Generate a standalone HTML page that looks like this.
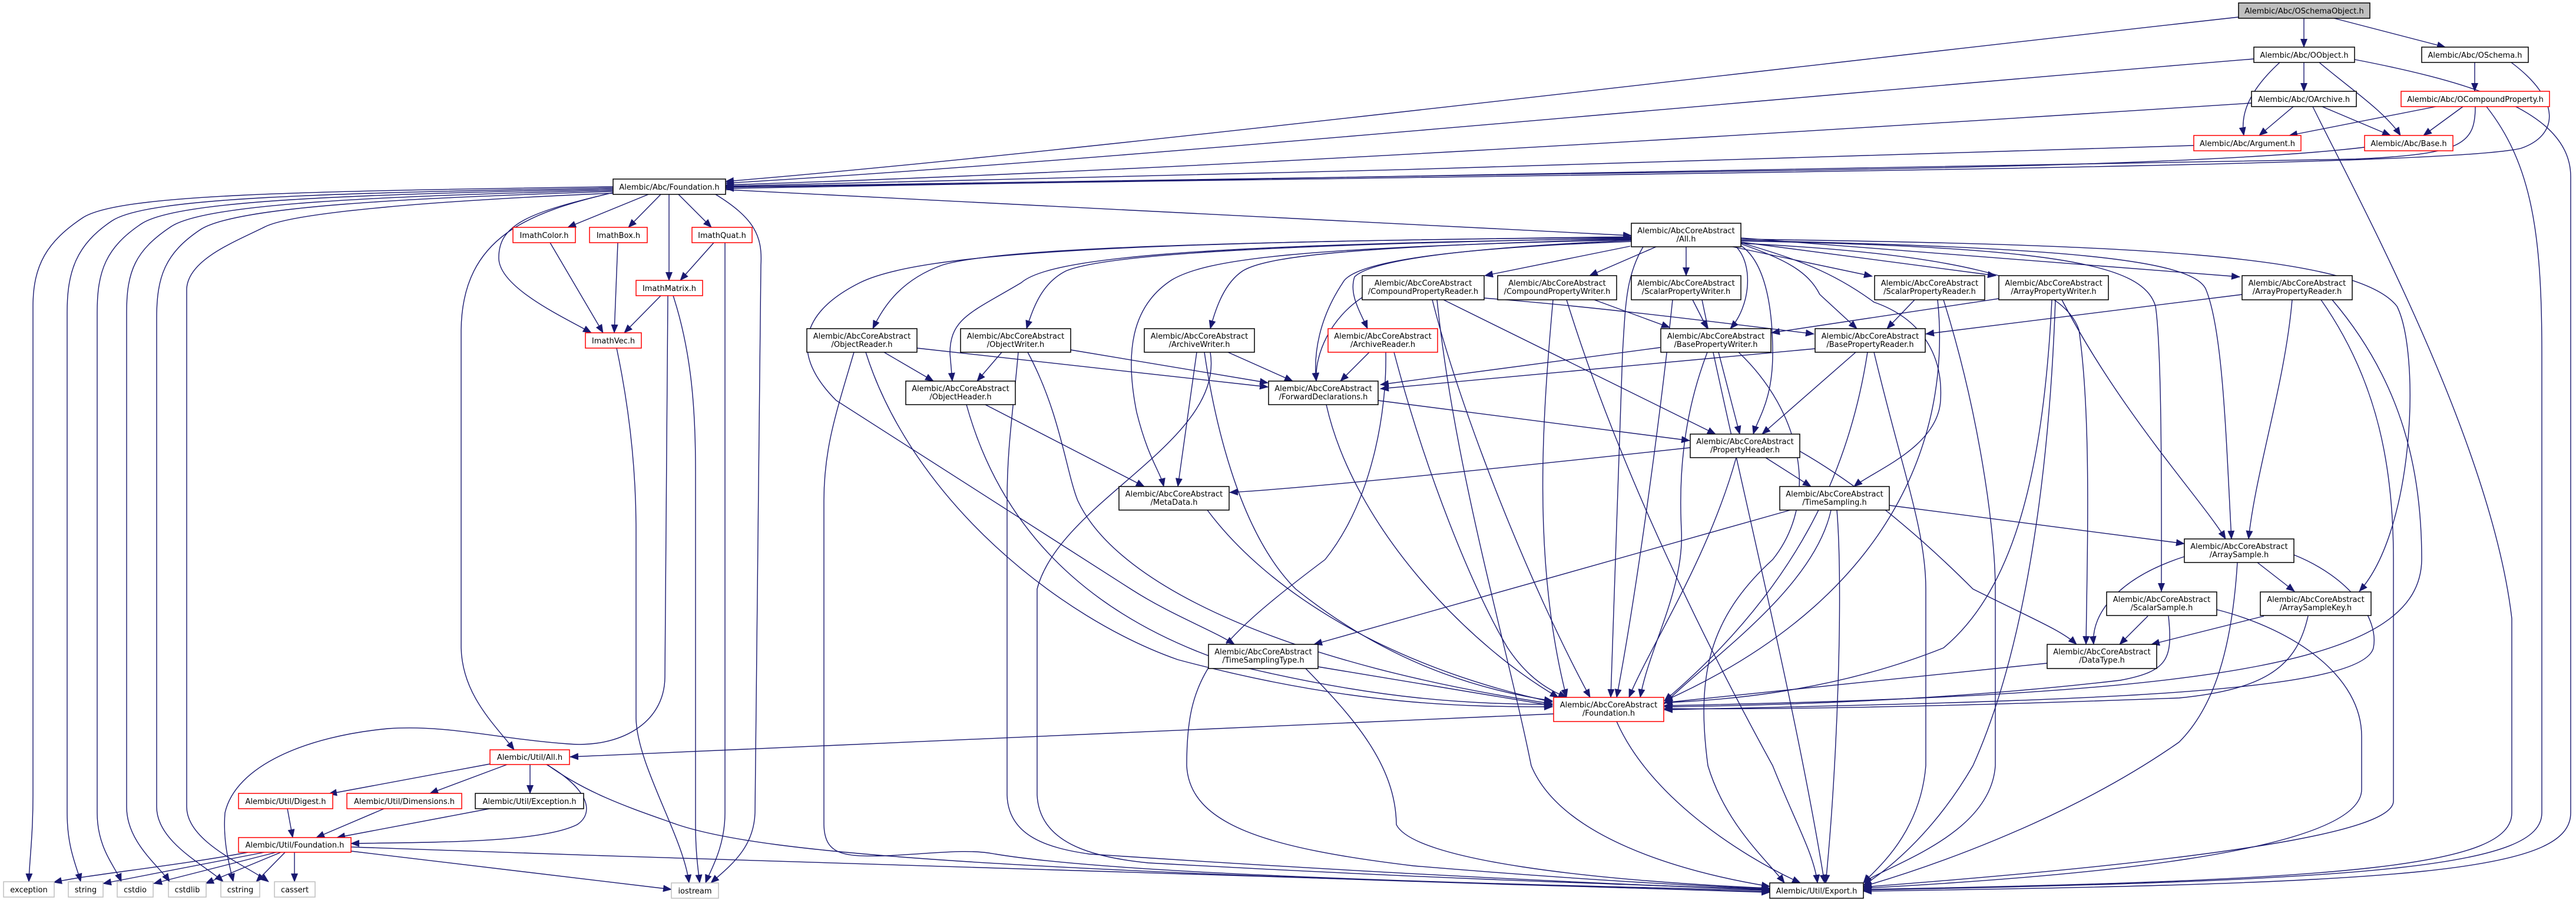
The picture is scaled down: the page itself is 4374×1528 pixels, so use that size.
<!DOCTYPE html>
<html><head><meta charset="utf-8">
<style>
html,body{margin:0;padding:0;background:#fff;width:4374px;height:1528px;overflow:hidden}
svg{display:block}
text{font-family:"DejaVu Sans","Liberation Sans",sans-serif;font-size:13px;fill:#000;text-anchor:middle}
</style></head><body>
<svg width="4374" height="1528" viewBox="0 0 4374 1528" xmlns="http://www.w3.org/2000/svg">
<defs>
<marker id="a" markerUnits="userSpaceOnUse" markerWidth="15" markerHeight="12" refX="14" refY="6" orient="auto"><path d="M0,0 L15,6 L0,12 z" fill="#191970"/></marker>
</defs>
<rect width="4374" height="1528" fill="#fff"/>
<g fill="none" stroke="#191970" stroke-width="1.4" marker-end="url(#a)">
<path d="M3912,31 L3912,80"/>
<path d="M3963,31 L4152,80"/>
<path d="M3801,29 C3000,118 1800,262 1232,308"/>
<path d="M3827,100 C3000,168 1900,272 1232,311"/>
<path d="M3912,106 L3912,155"/>
<path d="M3871,106 C3812,160 3805,200 3810,230"/>
<path d="M3938,106 C3990,150 4050,190 4076,230"/>
<path d="M3998,101 C4200,140 4365,190 4365,300 L4365,1380 C4365,1480 4100,1500 3164,1513"/>
<path d="M4202,106 L4202,155"/>
<path d="M4264,106 C4350,170 4345,230 4280,252 C4150,282 3000,292 1232,318"/>
<path d="M3823,175 C3000,228 2000,290 1232,314"/>
<path d="M3894,181 L3836,230"/>
<path d="M3943,181 L4059,230"/>
<path d="M3927,181 C4000,330 4230,750 4265,1050 L4265,1380 C4265,1470 4000,1495 3164,1510"/>
<path d="M4136,181 L3887,230"/>
<path d="M4182,181 L4115,230"/>
<path d="M4203,181 C4203,245 4180,262 4000,270 C3000,292 2000,302 1232,320"/>
<path d="M4222,181 C4300,280 4316,400 4316,600 L4316,1380 C4316,1470 4050,1495 3164,1511"/>
<path d="M3725,247 C3000,272 2000,300 1232,316"/>
<path d="M4015,250 C3850,270 3500,283 3000,290 C2200,300 1600,310 1232,317"/>

<path d="M1101,330 L964,386"/>
<path d="M1122,330 L1067,386"/>
<path d="M1136,330 L1136,476"/>
<path d="M1152,330 L1208,386"/>
<path d="M1041,327 C900,360 845,380 847,440 C850,490 960,540 1004,565"/>
<path d="M1215,330 C1280,370 1295,400 1292,450 L1282,1380 C1280,1440 1240,1470 1207,1499"/>
<path d="M1232,322 L2770,400"/>
<path d="M1045,326 C900,360 785,400 783,560 L783,1100 C785,1180 840,1230 873,1273"/>
<path d="M1041,317 C500,325 200,330 140,370 C80,410 56,450 56,520 L56,1350 C56,1420 50,1460 49,1497"/>
<path d="M1041,319 C550,328 250,335 190,375 C130,415 114,460 114,530 L114,1380 C114,1440 130,1470 137,1497"/>
<path d="M1041,321 C600,330 300,340 240,380 C180,420 165,460 165,530 L165,1380 C165,1440 195,1470 206,1497"/>
<path d="M1041,323 C650,333 350,345 290,385 C230,425 215,460 215,530 L215,1370 C215,1430 270,1470 288,1497"/>
<path d="M1041,325 C700,336 400,350 340,390 C280,430 266,470 266,540 L266,1370 C266,1430 350,1470 379,1497"/>
<path d="M1041,328 C750,340 500,360 450,385 C400,410 320,440 317,490 L317,1370 C317,1430 420,1470 456,1497"/>

<path d="M934,412 L1024,565"/>
<path d="M1049,412 L1043,565"/>
<path d="M1122,502 L1060,565"/>
<path d="M1212,412 L1155,476"/>
<path d="M1143,502 C1175,600 1181,700 1181,800 L1181,1400 C1181,1450 1186,1480 1188,1499"/>
<path d="M1134,502 L1129,1150 C1128,1230 1050,1270 965,1263 C850,1255 760,1230 659,1237 C520,1250 400,1300 382,1380 C378,1430 390,1470 396,1497"/>
<path d="M1231,412 L1231,1380 C1231,1440 1205,1480 1198,1499"/>
<path d="M1047,591 C1070,700 1080,800 1080,900 L1080,1220 C1082,1300 1160,1420 1170,1499"/>

<path d="M2770,402 C2100,410 1700,420 1600,450 C1530,475 1500,520 1482,558"/>
<path d="M2770,404 C2200,415 1880,430 1810,460 C1770,480 1755,520 1743,558"/>
<path d="M2770,406 C2300,418 2150,435 2110,460 C2080,480 2065,520 2055,558"/>
<path d="M2770,408 C2500,420 2330,440 2300,470 C2290,500 2310,530 2322,558"/>
<path d="M2770,405 C2000,415 1780,440 1734,480 C1650,530 1613,540 1613,600 L1617,647"/>
<path d="M2770,410 C2500,420 2300,440 2280,480 C2240,540 2230,600 2235,647"/>
<path d="M2770,407 C2200,420 2050,440 1990,475 C1920,520 1910,600 1930,700 C1950,780 1970,800 1976,826"/>
<path d="M2770,403 C1900,410 1560,430 1460,480 C1360,530 1340,600 1420,680 L1920,1000 C1990,1045 2060,1070 2096,1094"/>
<path d="M2768,418 L2521,468"/>
<path d="M2812,419 L2699,468"/>
<path d="M2863,419 L2863,468"/>
<path d="M2942,419 L3179,469"/>
<path d="M2956,411 L3389,468"/>
<path d="M2956,404 L3803,470"/>
<path d="M2948,419 C2978,450 2972,520 2938,558"/>
<path d="M2956,414 C3030,440 3070,460 3090,500 L3153,558"/>
<path d="M2956,417 C2990,440 3010,500 3010,600 C3010,680 2985,710 2977,737"/>
<path d="M2956,412 C3050,440 3110,460 3182,513 C3260,540 3300,600 3295,680 C3290,760 3180,800 3148,826"/>
<path d="M2956,408 C3500,420 3720,440 3745,490 C3775,560 3780,750 3789,915"/>
<path d="M2956,406 C3600,415 4000,430 4070,520 C4110,600 4100,900 4006,1004"/>
<path d="M2956,409 C3500,420 3640,450 3660,520 C3672,600 3670,900 3670,1004"/>
<path d="M2956,413 C3300,430 3500,470 3530,560 C3550,700 3545,900 3542,1094"/>
<path d="M2790,419 C2760,470 2760,520 2755,600 L2735,1184"/>

<path d="M2874,509 L2899,558"/>
<path d="M2707,509 L2835,556"/>
<path d="M2520,506 C2700,520 2900,545 3080,567"/>
<path d="M3251,509 L3204,558"/>
<path d="M3807,500 L3270,567"/>
<path d="M3394,507 L3008,565"/>
<path d="M2918,598 L2954,737"/>
<path d="M3151,598 L2992,737"/>
<path d="M2451,509 L2913,737"/>
<path d="M2340,680 L2869,748"/>
<path d="M2870,760 C2500,800 2200,830 2088,836"/>
<path d="M2998,777 L3075,826"/>
<path d="M2948,777 C2900,950 2800,1100 2766,1184"/>
<path d="M3056,766 C3150,820 3250,900 3350,1000 C3450,1050 3500,1070 3526,1094"/>
<path d="M3208,858 L3709,923"/>
<path d="M3040,866 L2231,1094"/>
<path d="M3109,866 C3080,1000 2900,1120 2826,1195"/>
<path d="M3119,866 C3130,1000 3120,1300 3100,1499"/>
<path d="M3501,509 C3600,700 3740,850 3779,915"/>
<path d="M3892,509 C3880,650 3830,800 3818,915"/>
<path d="M3833,955 L3896,1004"/>
<path d="M3709,945 C3600,980 3550,1040 3555,1094"/>
<path d="M3799,955 C3790,1100 3760,1200 3700,1260 C3500,1400 3250,1480 3164,1505"/>
<path d="M3895,942 C3990,980 4040,1050 4030,1100 C4010,1180 3500,1190 2826,1205"/>
<path d="M3647,1046 L3599,1094"/>
<path d="M3844,1046 L3653,1094"/>
<path d="M3682,1046 C3690,1120 3680,1140 3600,1155 C3300,1190 3000,1198 2826,1200"/>
<path d="M3764,1035 C3900,1070 4010,1150 4010,1250 L4010,1340 C4010,1450 3500,1490 3164,1508"/>
<path d="M3919,1046 C3900,1130 3850,1170 3700,1185 C3300,1200 3000,1205 2826,1203"/>
<path d="M3476,1126 L2826,1193"/>
<path d="M2745,1225 C2800,1350 2950,1450 3057,1499"/>
<path d="M2638,1212 L968,1285"/>
<path d="M2238,1132 L2636,1198"/>
<path d="M2217,1135 C2300,1220 2370,1300 2371,1400 C2400,1460 2700,1495 3005,1508"/>

<path d="M1501,598 L1585,647"/>
<path d="M1557,591 L2153,657"/>
<path d="M1470,598 C1550,850 1800,1050 2000,1120 C2300,1200 2500,1200 2636,1200"/>
<path d="M1450,598 C1420,700 1399,760 1399,850 L1399,1400 C1400,1450 1430,1455 1500,1453 C1580,1450 1640,1440 1690,1450 C1900,1485 2500,1500 3005,1512"/>
<path d="M1701,598 L1659,647"/>
<path d="M1818,594 L2153,650"/>
<path d="M1745,598 C1800,700 1810,800 1830,850 C1900,1000 2200,1130 2636,1195"/>
<path d="M1729,598 C1720,700 1710,760 1710,850 L1710,1350 C1712,1420 1780,1440 1850,1450 C2300,1480 2700,1500 3005,1511"/>
<path d="M2085,598 L2195,647"/>
<path d="M2032,598 L2000,826"/>
<path d="M2045,598 C2060,700 2100,900 2200,1000 C2350,1120 2500,1170 2636,1190"/>
<path d="M2055,598 C2080,750 1800,850 1761,1000 L1761,1350 C1765,1430 1850,1455 1950,1465 C2400,1490 2700,1500 3005,1510"/>
<path d="M2325,598 L2276,647"/>
<path d="M2367,598 C2420,800 2500,1000 2560,1100 C2600,1160 2640,1175 2660,1184"/>
<path d="M2353,598 C2355,700 2330,850 2250,950 C2050,1100 2015,1150 2015,1300 C2020,1400 2150,1440 2400,1470 C2700,1495 2900,1505 3005,1509"/>
<path d="M2252,687 C2300,900 2500,1100 2646,1184"/>
<path d="M2313,505 C2260,540 2232,600 2235,647"/>
<path d="M2432,509 C2480,700 2600,1000 2700,1184"/>
<path d="M2440,509 C2470,800 2560,1100 2600,1300 C2650,1420 2850,1480 3005,1505"/>
<path d="M2637,509 C2620,700 2600,950 2660,1184"/>
<path d="M2660,509 C2750,800 2900,1100 3010,1300 C3050,1400 3080,1450 3086,1499"/>
<path d="M2840,509 C2820,700 2780,1000 2745,1184"/>
<path d="M2890,509 C2950,800 3050,1200 3098,1499"/>
<path d="M3290,509 C3310,700 3250,1000 2826,1190"/>
<path d="M3300,509 C3360,700 3388,900 3388,1000 L3388,1300 C3380,1420 3200,1470 3164,1499"/>
<path d="M3484,509 C3470,800 3420,1000 3300,1100 C3100,1180 2900,1190 2826,1193"/>
<path d="M3490,509 C3480,800 3440,1100 3350,1300 C3280,1420 3200,1480 3164,1503"/>
<path d="M3941,509 C4040,650 4064,800 4064,950 L4064,1360 C4064,1400 3900,1450 3164,1506"/>
<path d="M3960,509 C4080,650 4112,800 4112,950 C4110,1120 3800,1180 2826,1198"/>
<path d="M2819,590 L2344,653"/>
<path d="M2899,598 C2860,700 2850,800 2855,900 C2860,1000 2800,1100 2785,1184"/>
<path d="M2952,598 C3060,700 3090,850 3010,950 C2900,1050 2880,1150 2900,1300 C2930,1400 3000,1460 3030,1499"/>
<path d="M3082,592 L2344,660"/>
<path d="M3171,598 C3140,800 3050,1000 2826,1190"/>
<path d="M3182,598 C3230,800 3270,900 3270,1000 L3270,1300 C3260,1420 3180,1480 3164,1499"/>
<path d="M1673,687 L1943,826"/>
<path d="M1641,687 C1700,900 1850,1050 2100,1130 C2350,1190 2500,1195 2636,1196"/>
<path d="M2050,866 C2150,1000 2350,1130 2636,1192"/>

<path d="M832,1297 L558,1348"/>
<path d="M861,1298 L730,1347"/>
<path d="M900,1298 L900,1347"/>
<path d="M928,1298 C1000,1340 1010,1380 980,1400 C920,1430 750,1430 596,1432"/>
<path d="M929,1298 C1000,1350 1080,1375 1150,1400 C1300,1450 1700,1480 3005,1514"/>
<path d="M488,1373 L497,1422"/>
<path d="M652,1373 L537,1422"/>
<path d="M831,1373 L572,1422"/>
<path d="M421,1447 C300,1470 150,1485 91,1498"/>
<path d="M449,1447 L175,1500"/>
<path d="M469,1447 L261,1500"/>
<path d="M477,1447 L349,1500"/>
<path d="M484,1447 L435,1497"/>
<path d="M500,1447 L500,1497"/>
<path d="M596,1445 L1140,1510"/>
<path d="M596,1438 C1500,1470 2500,1500 3005,1515"/>
</g>

<g stroke-width="1.5">
<rect x="3801" y="5" width="223" height="26" fill="#bfbfbf" stroke="#000"/>
<rect x="3827" y="80" width="171" height="26" fill="#fff" stroke="#000"/>
<rect x="4112" y="80" width="181" height="26" fill="#fff" stroke="#000"/>
<rect x="3823" y="155" width="178" height="26" fill="#fff" stroke="#000"/>
<rect x="4077" y="155" width="252" height="26" fill="#fff" stroke="#f00"/>
<rect x="3725" y="230" width="182" height="26" fill="#fff" stroke="#f00"/>
<rect x="4015" y="230" width="150" height="26" fill="#fff" stroke="#f00"/>
<rect x="1041" y="304" width="191" height="26" fill="#fff" stroke="#000"/>
<rect x="2770" y="379" width="186" height="40" fill="#fff" stroke="#000"/>
<rect x="871" y="386" width="106" height="26" fill="#fff" stroke="#f00"/>
<rect x="1001" y="386" width="98" height="26" fill="#fff" stroke="#f00"/>
<rect x="1175" y="386" width="102" height="26" fill="#fff" stroke="#f00"/>
<rect x="1080" y="476" width="113" height="26" fill="#fff" stroke="#f00"/>
<rect x="994" y="565" width="95" height="26" fill="#fff" stroke="#f00"/>
<rect x="2313" y="468" width="207" height="41" fill="#fff" stroke="#000"/>
<rect x="2543" y="468" width="202" height="41" fill="#fff" stroke="#000"/>
<rect x="2770" y="468" width="186" height="41" fill="#fff" stroke="#000"/>
<rect x="3183" y="468" width="187" height="41" fill="#fff" stroke="#000"/>
<rect x="3394" y="468" width="186" height="41" fill="#fff" stroke="#000"/>
<rect x="3807" y="468" width="187" height="41" fill="#fff" stroke="#000"/>
<rect x="1370" y="558" width="187" height="40" fill="#fff" stroke="#000"/>
<rect x="1631" y="558" width="187" height="40" fill="#fff" stroke="#000"/>
<rect x="1943" y="558" width="187" height="40" fill="#fff" stroke="#000"/>
<rect x="2255" y="558" width="186" height="40" fill="#fff" stroke="#f00"/>
<rect x="2820" y="558" width="187" height="40" fill="#fff" stroke="#000"/>
<rect x="3082" y="558" width="187" height="40" fill="#fff" stroke="#000"/>
<rect x="1538" y="647" width="186" height="40" fill="#fff" stroke="#000"/>
<rect x="2154" y="647" width="186" height="40" fill="#fff" stroke="#000"/>
<rect x="2870" y="737" width="186" height="40" fill="#fff" stroke="#000"/>
<rect x="1900" y="826" width="187" height="40" fill="#fff" stroke="#000"/>
<rect x="3022" y="826" width="186" height="40" fill="#fff" stroke="#000"/>
<rect x="3709" y="915" width="186" height="40" fill="#fff" stroke="#000"/>
<rect x="3577" y="1005" width="187" height="40" fill="#fff" stroke="#000"/>
<rect x="3838" y="1005" width="188" height="40" fill="#fff" stroke="#000"/>
<rect x="2052" y="1094" width="186" height="41" fill="#fff" stroke="#000"/>
<rect x="3476" y="1094" width="186" height="41" fill="#fff" stroke="#000"/>
<rect x="2638" y="1184" width="187" height="41" fill="#fff" stroke="#f00"/>
<rect x="832" y="1273" width="135" height="25" fill="#fff" stroke="#f00"/>
<rect x="405" y="1347" width="160" height="26" fill="#fff" stroke="#f00"/>
<rect x="589" y="1347" width="195" height="26" fill="#fff" stroke="#f00"/>
<rect x="807" y="1347" width="184" height="26" fill="#fff" stroke="#000"/>
<rect x="405" y="1422" width="191" height="25" fill="#fff" stroke="#f00"/>
<rect x="6" y="1497" width="86" height="26" fill="#fff" stroke="#bfbfbf"/>
<rect x="116" y="1497" width="59" height="26" fill="#fff" stroke="#bfbfbf"/>
<rect x="199" y="1497" width="61" height="26" fill="#fff" stroke="#bfbfbf"/>
<rect x="286" y="1497" width="64" height="26" fill="#fff" stroke="#bfbfbf"/>
<rect x="375" y="1497" width="66" height="26" fill="#fff" stroke="#bfbfbf"/>
<rect x="466" y="1497" width="69" height="26" fill="#fff" stroke="#bfbfbf"/>
<rect x="1140" y="1499" width="80" height="26" fill="#fff" stroke="#bfbfbf"/>
<rect x="3005" y="1499" width="159" height="26" fill="#fff" stroke="#000"/>
</g>

<g>
<text x="3912.5" y="23">Alembic/Abc/OSchemaObject.h</text>
<text x="3912.5" y="98">Alembic/Abc/OObject.h</text>
<text x="4202.5" y="98">Alembic/Abc/OSchema.h</text>
<text x="3912" y="173">Alembic/Abc/OArchive.h</text>
<text x="4203" y="173">Alembic/Abc/OCompoundProperty.h</text>
<text x="3816" y="248">Alembic/Abc/Argument.h</text>
<text x="4090" y="248">Alembic/Abc/Base.h</text>
<text x="1136.5" y="322">Alembic/Abc/Foundation.h</text>
<text x="2863" y="396">Alembic/AbcCoreAbstract</text><text x="2863" y="410">/All.h</text>
<text x="924" y="404">ImathColor.h</text>
<text x="1050" y="404">ImathBox.h</text>
<text x="1226" y="404">ImathQuat.h</text>
<text x="1136.5" y="494">ImathMatrix.h</text>
<text x="1041.5" y="583">ImathVec.h</text>
<text x="2416.5" y="485">Alembic/AbcCoreAbstract</text><text x="2416.5" y="499">/CompoundPropertyReader.h</text>
<text x="2644" y="485">Alembic/AbcCoreAbstract</text><text x="2644" y="499">/CompoundPropertyWriter.h</text>
<text x="2863" y="485">Alembic/AbcCoreAbstract</text><text x="2863" y="499">/ScalarPropertyWriter.h</text>
<text x="3276.5" y="485">Alembic/AbcCoreAbstract</text><text x="3276.5" y="499">/ScalarPropertyReader.h</text>
<text x="3487" y="485">Alembic/AbcCoreAbstract</text><text x="3487" y="499">/ArrayPropertyWriter.h</text>
<text x="3900.5" y="485">Alembic/AbcCoreAbstract</text><text x="3900.5" y="499">/ArrayPropertyReader.h</text>
<text x="1463.5" y="575">Alembic/AbcCoreAbstract</text><text x="1463.5" y="589">/ObjectReader.h</text>
<text x="1724.5" y="575">Alembic/AbcCoreAbstract</text><text x="1724.5" y="589">/ObjectWriter.h</text>
<text x="2036.5" y="575">Alembic/AbcCoreAbstract</text><text x="2036.5" y="589">/ArchiveWriter.h</text>
<text x="2348" y="575">Alembic/AbcCoreAbstract</text><text x="2348" y="589">/ArchiveReader.h</text>
<text x="2913.5" y="575">Alembic/AbcCoreAbstract</text><text x="2913.5" y="589">/BasePropertyWriter.h</text>
<text x="3175.5" y="575">Alembic/AbcCoreAbstract</text><text x="3175.5" y="589">/BasePropertyReader.h</text>
<text x="1631" y="664">Alembic/AbcCoreAbstract</text><text x="1631" y="678">/ObjectHeader.h</text>
<text x="2247" y="664">Alembic/AbcCoreAbstract</text><text x="2247" y="678">/ForwardDeclarations.h</text>
<text x="2963" y="754">Alembic/AbcCoreAbstract</text><text x="2963" y="768">/PropertyHeader.h</text>
<text x="1993.5" y="843">Alembic/AbcCoreAbstract</text><text x="1993.5" y="857">/MetaData.h</text>
<text x="3115" y="843">Alembic/AbcCoreAbstract</text><text x="3115" y="857">/TimeSampling.h</text>
<text x="3802" y="932">Alembic/AbcCoreAbstract</text><text x="3802" y="946">/ArraySample.h</text>
<text x="3670.5" y="1022">Alembic/AbcCoreAbstract</text><text x="3670.5" y="1036">/ScalarSample.h</text>
<text x="3932" y="1022">Alembic/AbcCoreAbstract</text><text x="3932" y="1036">/ArraySampleKey.h</text>
<text x="2145" y="1111">Alembic/AbcCoreAbstract</text><text x="2145" y="1125">/TimeSamplingType.h</text>
<text x="3569" y="1111">Alembic/AbcCoreAbstract</text><text x="3569" y="1125">/DataType.h</text>
<text x="2731.5" y="1201">Alembic/AbcCoreAbstract</text><text x="2731.5" y="1215">/Foundation.h</text>
<text x="899.5" y="1290">Alembic/Util/All.h</text>
<text x="485" y="1365">Alembic/Util/Digest.h</text>
<text x="686.5" y="1365">Alembic/Util/Dimensions.h</text>
<text x="899" y="1365">Alembic/Util/Exception.h</text>
<text x="500.5" y="1439">Alembic/Util/Foundation.h</text>
<text x="49" y="1515">exception</text>
<text x="145.5" y="1515">string</text>
<text x="229.5" y="1515">cstdio</text>
<text x="318" y="1515">cstdlib</text>
<text x="408" y="1515">cstring</text>
<text x="500.5" y="1515">cassert</text>
<text x="1180" y="1517">iostream</text>
<text x="3084.5" y="1517">Alembic/Util/Export.h</text>
</g>
</svg>
</body></html>
